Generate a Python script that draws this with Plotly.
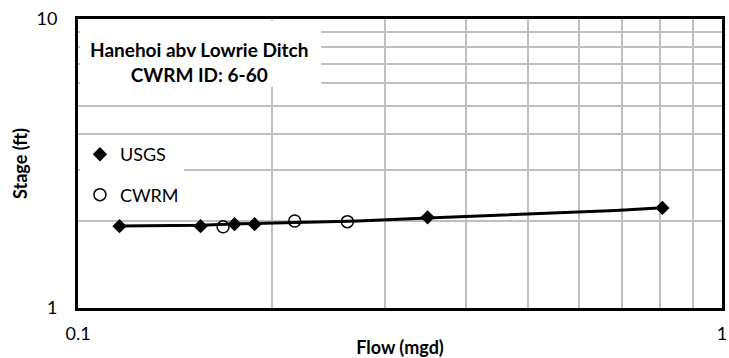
import plotly.graph_objects as go

# USGS measurements
usgs_flow = [0.116, 0.155, 0.175, 0.188, 0.349, 0.808]
usgs_stage = [1.92, 1.92, 1.95, 1.95, 2.06, 2.22]

# CWRM measurements
cwrm_flow = [0.168, 0.217, 0.262]
cwrm_stage = [1.91, 2.00, 1.99]

# Rating curve
curve_flow = [0.116, 0.155, 0.178, 0.220, 0.272, 0.349, 0.447, 0.553, 0.684, 0.808]
curve_stage = [1.922, 1.932, 1.955, 1.974, 2.000, 2.050, 2.093, 2.133, 2.174, 2.221]

x_ticks = [0.1, 1]
x_tick_text = ["0.1", "1"]
x_minor = [0.2, 0.3, 0.4, 0.5, 0.6, 0.7, 0.8, 0.9]
y_ticks = [1, 10]
y_tick_text = ["1", "10"]
y_minor = [2, 3, 4, 5, 6, 7, 8, 9]

title_lines = ["Hanehoi abv Lowrie Ditch", "CWRM ID: 6-60"]

FONT = "Lato"
FS = 18
GRID = "#bfbfbf"

fig = go.Figure()
fig.add_trace(go.Scatter(x=curve_flow, y=curve_stage, mode="lines",
                         line=dict(color="black", width=3), showlegend=False,
                         hoverinfo="skip"))
fig.add_trace(go.Scatter(x=usgs_flow, y=usgs_stage, mode="markers", name="USGS",
                         legendgroup="a",
                         marker=dict(symbol="diamond", size=11, color="black")))
fig.add_trace(go.Scatter(x=cwrm_flow, y=cwrm_stage, mode="markers", name="CWRM",
                         legendgroup="b",
                         marker=dict(symbol="circle-open", size=12, color="black",
                                     line=dict(width=1.5))))

# title box (white, covering the grid)
fig.add_shape(type="rect", xref="paper", yref="paper", x0=0.003, x1=0.3775,
              y0=0.766, y1=0.995, fillcolor="white", line=dict(width=0), layer="above")
fig.add_annotation(xref="paper", yref="paper", x=0.188, y=0.852,
                   xanchor="center", yanchor="middle",
                   text="<b>" + title_lines[0] + "</b><br><b>" + title_lines[1] + "</b>",
                   showarrow=False, font=dict(family=FONT, size=19, color="black"),
                   align="center")

axis_common = dict(type="log", showline=True, linewidth=3, linecolor="black",
                   mirror=True, showgrid=True, gridcolor=GRID, gridwidth=1.5,
                   ticks="", zeroline=False, ticklabeloverflow="allow",
                   tickfont=dict(family=FONT, size=FS, color="black"))

fig.update_xaxes(range=[-1, 0], tickvals=x_ticks, ticktext=x_tick_text,
                 minor=dict(tickvals=x_minor, showgrid=True, gridcolor=GRID, gridwidth=1.5, ticks=""),
                 ticklabelstandoff=7,
                 title=dict(text="<b>Flow (mgd)</b>", font=dict(family=FONT, size=FS, color="black"),
                            standoff=0),
                 **axis_common)
fig.update_yaxes(range=[0, 1], tickvals=y_ticks, ticktext=y_tick_text,
                 minor=dict(tickvals=y_minor, showgrid=True, gridcolor=GRID, gridwidth=1.5, ticks=""),
                 ticklabelstandoff=14,
                 title=dict(text="<b>Stage (ft)</b>", font=dict(family=FONT, size=FS, color="black"),
                            standoff=5),
                 **axis_common)

fig.update_layout(
    width=729, height=358,
    margin=dict(l=78, r=2, t=19, b=36),
    paper_bgcolor="white", plot_bgcolor="white",
    font=dict(family=FONT, size=FS, color="black"),
    showlegend=True,
    legend=dict(x=0.003, y=0.595, xanchor="left", yanchor="top",
                bgcolor="white", borderwidth=0,
                tracegroupgap=14, traceorder="grouped",
                font=dict(family=FONT, size=FS, color="black")),
)

fig.write_html("out.html")
